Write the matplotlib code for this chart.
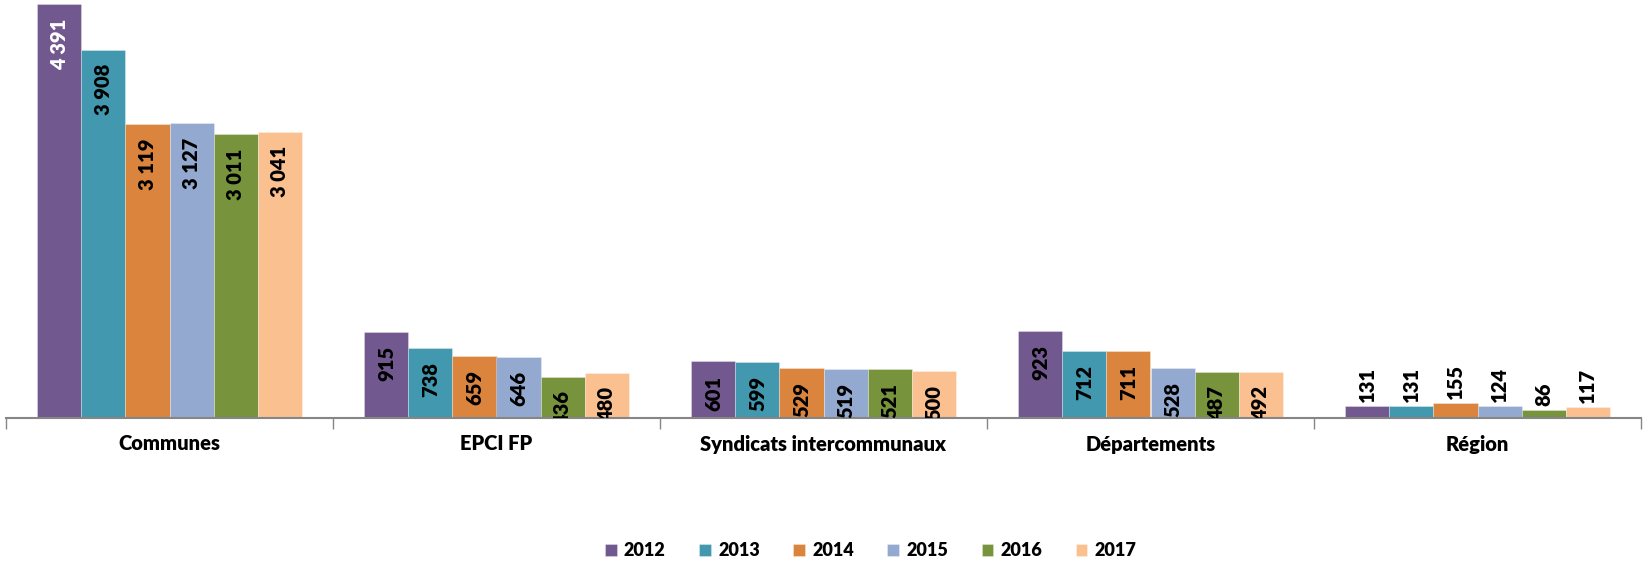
import matplotlib
matplotlib.use("Agg")
import matplotlib.pyplot as plt
import numpy as np

categories = ["Communes", "EPCI FP", "Syndicats intercommunaux", "Départements", "Région"]
years = ["2012", "2013", "2014", "2015", "2016", "2017"]
values = {
    "2012": [4391, 915, 601, 923, 131],
    "2013": [3908, 738, 599, 712, 131],
    "2014": [3119, 659, 529, 711, 155],
    "2015": [3127, 646, 519, 528, 124],
    "2016": [3011, 436, 521, 487, 86],
    "2017": [3041, 480, 500, 492, 117],
}
colors = ["#71588F", "#4198AF", "#DB843D", "#93A9CF", "#77933C", "#FAC090"]

plt.rcParams['font.family'] = ['Lato', 'DejaVu Sans']

W, H = 1643, 563
fig = plt.figure(figsize=(W / 100, H / 100), dpi=100)
ax_left, ax_right = 6 / W, 1641 / W
ax_bottom = (H - 418) / H
ax = fig.add_axes([ax_left, ax_bottom, ax_right - ax_left, 1 - ax_bottom])

x = np.arange(len(categories))
bw = 0.1346
for i, (yr, col) in enumerate(zip(years, colors)):
    xs = x + (i - 2.5) * bw
    vals = values[yr]
    ax.bar(xs, vals, width=bw, color=col, edgecolor=(1, 1, 1, 0.35), linewidth=0.6, label=yr, zorder=2)
    for xi, v in zip(xs, vals):
        txt = f"{v:,}".replace(",", " ")
        tcol = "white" if v > 4000 else "black"
        if v < 300:
            ax.annotate(txt, (xi, v), xytext=(0, 4), textcoords="offset pixels",
                        rotation=90, ha="center", va="bottom", fontsize=14.5,
                        fontweight="heavy", color=tcol, zorder=3)
        else:
            ax.annotate(txt, (xi, v), xytext=(0, -14), textcoords="offset pixels",
                        rotation=90, ha="center", va="top", fontsize=14.5,
                        fontweight="heavy", color=tcol, zorder=3, annotation_clip=False,
                        clip_on=True)

ax.set_xlim(-0.5, len(categories) - 0.5)
ax.set_ylim(0, 418 / 0.0942)
for s in ["top", "right", "left"]:
    ax.spines[s].set_visible(False)
ax.spines["bottom"].set_color("#868686")
ax.spines["bottom"].set_linewidth(1.5)
ax.set_yticks([])
ax.set_xticks(np.arange(len(categories) + 1) - 0.5)
ax.set_xticklabels([])
ax.tick_params(axis="x", length=8, width=1, color="#868686", direction="out")
for xi, c in zip(x, categories):
    ax.text(xi, -(444 - 418) / 418, c, transform=ax.get_xaxis_transform(), ha="center", va="center",
            fontsize=14.5, fontweight="heavy", color="black")

handles, labels = ax.get_legend_handles_labels()
leg = fig.legend(handles, labels, loc="center", bbox_to_anchor=(0.53, 1 - 551 / H), ncol=6,
                 frameon=False, prop={"weight": "heavy", "size": 13},
                 handlelength=0.65, handleheight=0.65, handletextpad=0.4, columnspacing=1.85)

fig.savefig("out.png", dpi=100)
